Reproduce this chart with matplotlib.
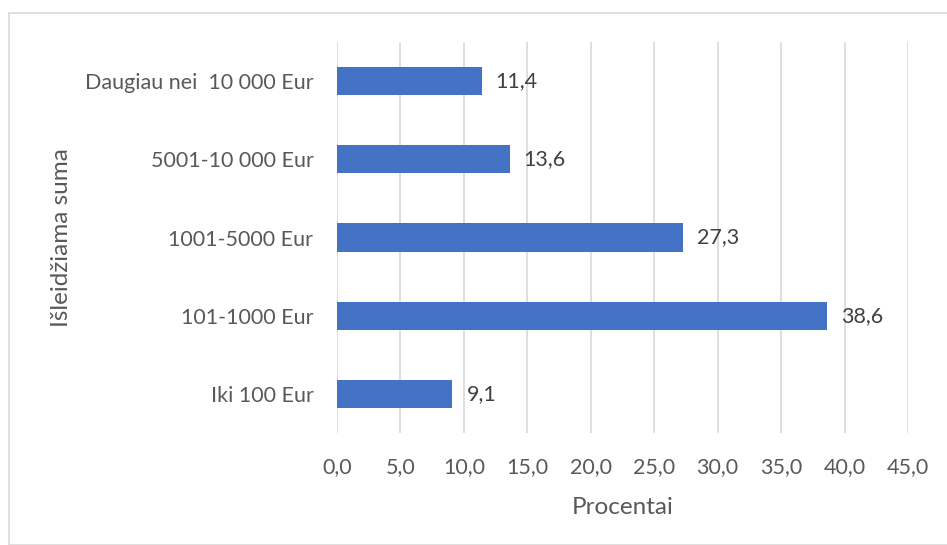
import matplotlib.pyplot as plt
from matplotlib.patches import Rectangle

categories = ["Iki 100 Eur", "101-1000 Eur", "1001-5000 Eur", "5001-10 000 Eur", "Daugiau nei  10 000 Eur"]
values = [9.1, 38.6, 27.3, 13.6, 11.4]
xticks = [0, 5, 10, 15, 20, 25, 30, 35, 40, 45]

plt.rcParams['font.family'] = ['Lato', 'DejaVu Sans']
text_col = "#595959"

fig = plt.figure(figsize=(9.47, 5.45), dpi=100)
W, H = 947, 545
# outer chart border
fig.patches.append(Rectangle((9 / W, 0), 1.0, 1 - 13 / H, transform=fig.transFigure,
                             fill=False, edgecolor="#d9d9d9", linewidth=1.2))

ax = fig.add_axes([337 / W, 1 - 433 / H, (908 - 337) / W, (433 - 42) / H])
ax.barh(range(len(categories)), values, height=0.36, color="#4472C4", zorder=3)
for i, v in enumerate(values):
    ax.text(v + 1.1, i, f"{v:.1f}".replace(".", ","), va="center", ha="left",
            fontsize=15.5, color="#404040")

ax.set_xlim(0, 45)
ax.set_ylim(-0.5, len(categories) - 0.5)
ax.set_xticks(xticks)
ax.set_xticklabels([f"{t:.1f}".replace(".", ",") for t in xticks], fontsize=15.5, color=text_col)
ax.set_yticks(range(len(categories)))
ax.set_yticklabels(categories, fontsize=15.5, color=text_col)
ax.tick_params(axis="both", length=0)
ax.tick_params(axis="x", pad=17)
ax.tick_params(axis="y", pad=17)
ax.grid(axis="x", color="#d9d9d9", linewidth=1.2, zorder=0)
for s in ax.spines.values():
    s.set_visible(False)

ax.set_xlabel("Procentai", fontsize=17.5, color=text_col, labelpad=15)
fig.text(62 / W, 1 - 238 / H, "Išleidžiama suma", rotation=90, ha="center", va="center",
         fontsize=17.5, color=text_col)

fig.savefig("out.png")
